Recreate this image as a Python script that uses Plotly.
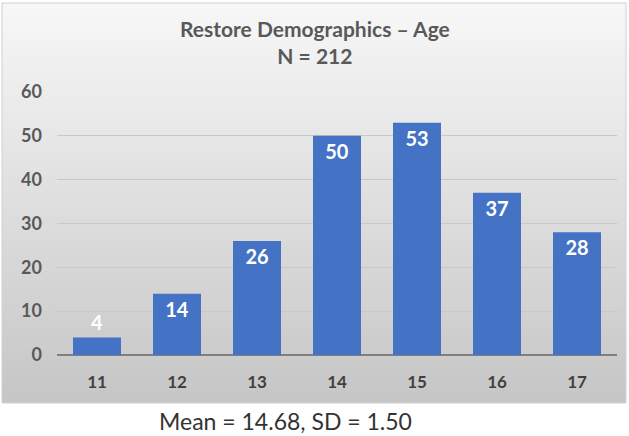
import plotly.graph_objects as go

ages = ["11", "12", "13", "14", "15", "16", "17"]
counts = [4, 14, 26, 50, 53, 37, 28]
y_ticks = [0, 10, 20, 30, 40, 50, 60]
title_lines = ["Restore Demographics – Age", "N = 212"]
footnote = "Mean = 14.68, SD = 1.50"

W, H = 629, 436
L, R, T, B = 57, 12, 92, 81
pw, ph = W - L - R, H - T - B

def px_x(px):
    return (px - L) / pw

def px_y(py):
    return (H - B - py) / ph

fig = go.Figure()
fig.add_trace(go.Bar(
    x=ages, y=counts,
    marker=dict(color="#4472C4", line=dict(width=0)),
    text=[str(c) for c in counts],
    textposition=["outside" if c < 8 else "inside" for c in counts],
    insidetextanchor="end", textangle=0,
    constraintext="none",
    textfont=dict(family="Lato", size=20, color="white", weight="bold"),
    outsidetextfont=dict(family="Lato", size=20, color="white", weight="bold"),
    cliponaxis=False,
))

shapes = []
box_x0, box_x1, box_top, box_bot = 2, 626, 3, 403
n = 60
top_c = (247, 247, 247)
bot_c = (198, 198, 198)
for i in range(n):
    t = i / (n - 1)
    c = tuple(int(round(top_c[k] + (bot_c[k] - top_c[k]) * t)) for k in range(3))
    y0p = box_top + (box_bot - box_top) * i / n
    y1p = box_top + (box_bot - box_top) * (i + 1) / n + 0.6
    shapes.append(dict(type="rect", xref="paper", yref="paper", layer="below",
                       x0=px_x(box_x0), x1=px_x(box_x1), y0=px_y(min(y1p, box_bot)), y1=px_y(y0p),
                       fillcolor="rgb(%d,%d,%d)" % c, line=dict(width=0)))
shapes.append(dict(type="rect", xref="paper", yref="paper", layer="above",
                   x0=px_x(box_x0), x1=px_x(box_x1), y0=px_y(box_bot), y1=px_y(box_top),
                   fillcolor="rgba(0,0,0,0)", line=dict(color="#d0d0d0", width=1)))

fig.update_layout(
    width=W, height=H,
    margin=dict(l=L, r=R, t=T, b=B, autoexpand=False),
    paper_bgcolor="white", plot_bgcolor="rgba(0,0,0,0)",
    bargap=0.4, showlegend=False,
    shapes=shapes,
    annotations=[
        dict(text="<br>".join(title_lines), xref="paper", yref="paper",
             x=px_x(315), y=px_y(42), xanchor="center", yanchor="middle",
             showarrow=False, align="center",
             font=dict(family="Lato", size=21, color="#595959", weight="bold")),
        dict(text=footnote, xref="paper", yref="paper",
             x=px_x(285), y=px_y(421), xanchor="center", yanchor="middle",
             showarrow=False, font=dict(family="Lato", size=23, color="#333333")),
    ],
    xaxis=dict(type="category", showgrid=False, showline=False, ticks="",
               automargin=False,
               tickfont=dict(family="Lato", size=17, color="#404040", weight="bold"),
               ticklabelstandoff=15),
    yaxis=dict(range=[0, 60], tickvals=y_ticks, showgrid=True, gridcolor="#c8c8c8",
               gridwidth=1, zeroline=True, zerolinecolor="#7f7f7f", zerolinewidth=1.5,
               showline=False, ticks="", automargin=False,
               tickfont=dict(family="Lato", size=18, color="#595959", weight="bold"),
               ticklabelstandoff=14),
)

fig.write_html("out.html", config={"displayModeBar": False},
               post_script="document.body.style.margin='0px';document.body.style.overflow='hidden';")
